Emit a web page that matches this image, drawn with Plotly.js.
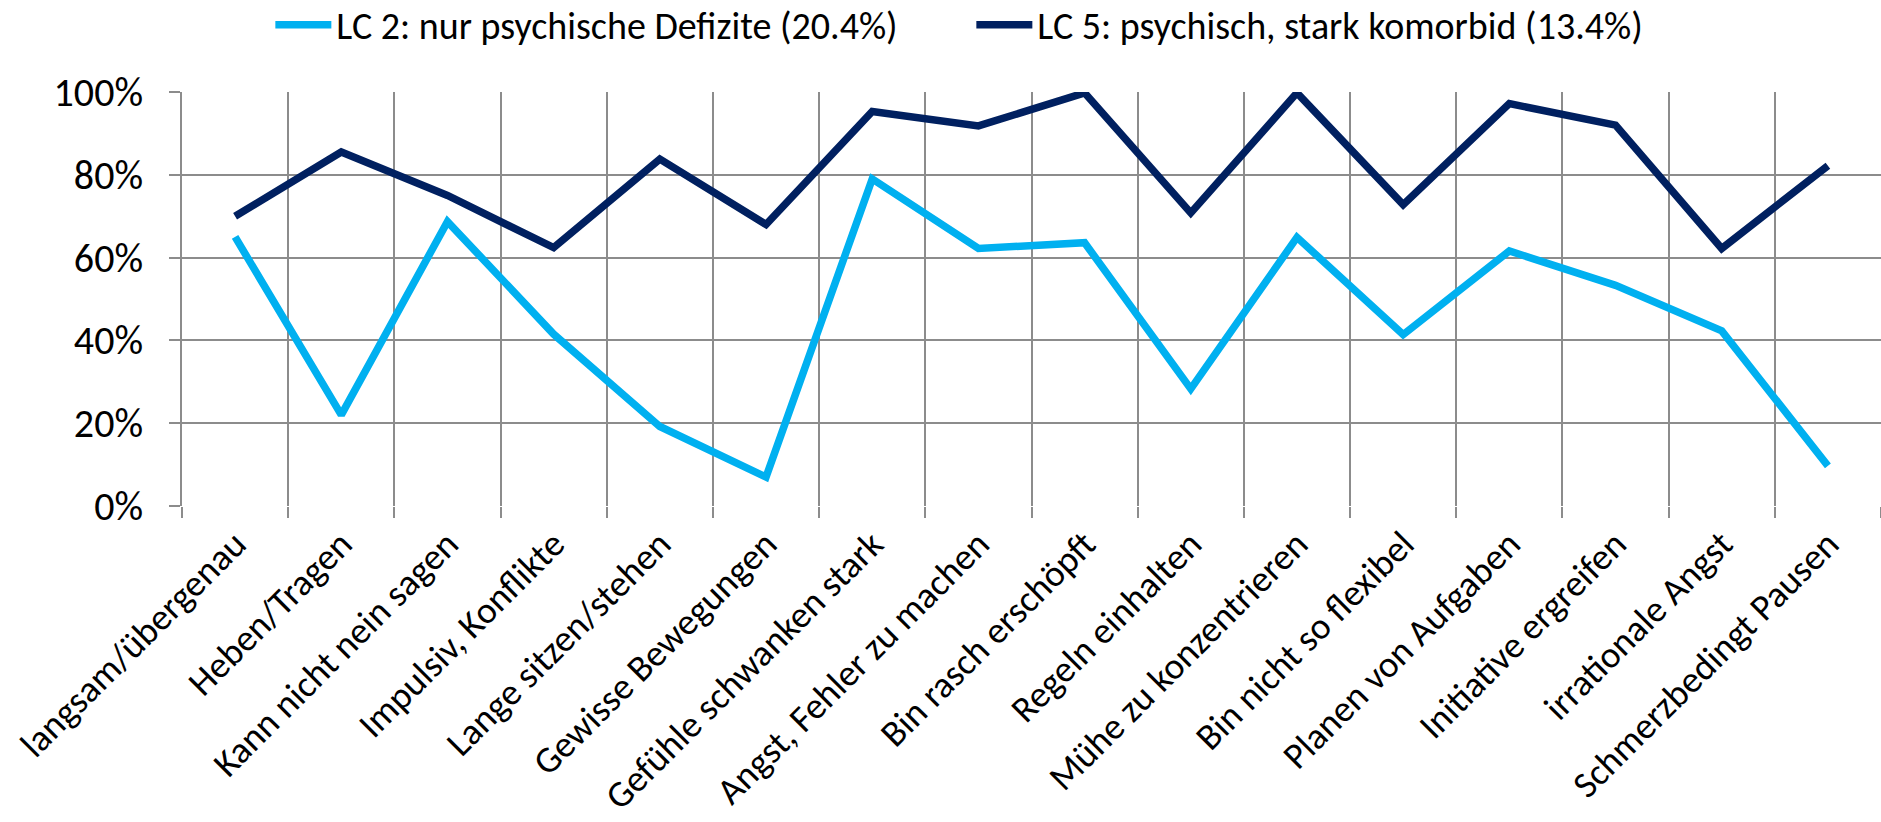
<!DOCTYPE html>
<html>
<head>
<meta charset="utf-8">
<script src="https://cdn.plot.ly/plotly-3.0.1.min.js"></script>
<style>
html,body{margin:0;padding:0;background:#fff;}
#chart{width:1881px;height:822px;}
</style>
</head>
<body>
<div id="chart"></div>
<script>
const categories = [
  "langsam/übergenau",
  "Heben/Tragen",
  "Kann nicht nein sagen",
  "Impulsiv, Konflikte",
  "Lange sitzen/stehen",
  "Gewisse Bewegungen",
  "Gefühle schwanken stark",
  "Angst, Fehler zu machen",
  "Bin rasch erschöpft",
  "Regeln einhalten",
  "Mühe zu konzentrieren",
  "Bin nicht so flexibel",
  "Planen von Aufgaben",
  "Initiative ergreifen",
  "irrationale Angst",
  "Schmerzbedingt Pausen"
];
const lc2Name = "LC 2: nur psychische Defizite (20.4%)";
const lc5Name = "LC 5: psychisch, stark komorbid (13.4%)";
const lc2Values = [0.65, 0.22, 0.687, 0.415, 0.192, 0.07, 0.79, 0.622, 0.636, 0.283, 0.649, 0.414, 0.616, 0.533, 0.423, 0.097];
const lc5Values = [0.70, 0.855, 0.75, 0.624, 0.838, 0.68, 0.953, 0.918, 0.998, 0.708, 0.998, 0.728, 0.972, 0.92, 0.622, 0.822];

const FONT = "Carlito, Calibri, Lato, 'Open Sans', sans-serif";

const traces = [
  {x: categories, y: lc2Values, name: lc2Name, type: 'scatter', mode: 'lines',
   line: {color: '#00B0F0', width: 7.5}},
  {x: categories, y: lc5Values, name: lc5Name, type: 'scatter', mode: 'lines',
   line: {color: '#002060', width: 7.5}}
];

const layout = {
  width: 1881, height: 822,
  margin: {l: 182, r: 0, t: 92, b: 316, autoexpand: false},
  paper_bgcolor: '#ffffff', plot_bgcolor: '#ffffff',
  font: {family: FONT, size: 38, color: '#000000'},
  showlegend: true,
  legend: {orientation: 'h', x: 0.052, xanchor: 'left', y: 1.162, yanchor: 'middle',
           font: {family: FONT, size: 38, color: '#000'}, entrywidth: 630, entrywidthmode: 'pixels',
           itemwidth: 56, bgcolor: 'rgba(0,0,0,0)'},
  xaxis: {type: 'category', range: [-0.5, 15.5], tickson: 'boundaries',
          showgrid: true, gridcolor: '#8c8c8c', gridwidth: 2,
          ticks: 'outside', ticklen: 11, tickwidth: 2, tickcolor: '#8c8c8c',
          tickangle: -45, tickfont: {family: FONT, size: 37, color: '#000'},
          showline: false, zeroline: false, automargin: false, ticklabelstandoff: 8},
  yaxis: {range: [0, 1], dtick: 0.2, tick0: 0, tickformat: '.0%',
          showgrid: true, gridcolor: '#8c8c8c', gridwidth: 2,
          ticks: 'outside', ticklen: 11, tickwidth: 2, tickcolor: '#8c8c8c',
          showline: true, linecolor: '#8c8c8c', linewidth: 2,
          zeroline: false, tickfont: {family: FONT, size: 40, color: '#000'},
          automargin: false, ticklabelstandoff: 18}
};

Plotly.newPlot('chart', traces, layout, {displayModeBar: false, staticPlot: true});
</script>
</body>
</html>
